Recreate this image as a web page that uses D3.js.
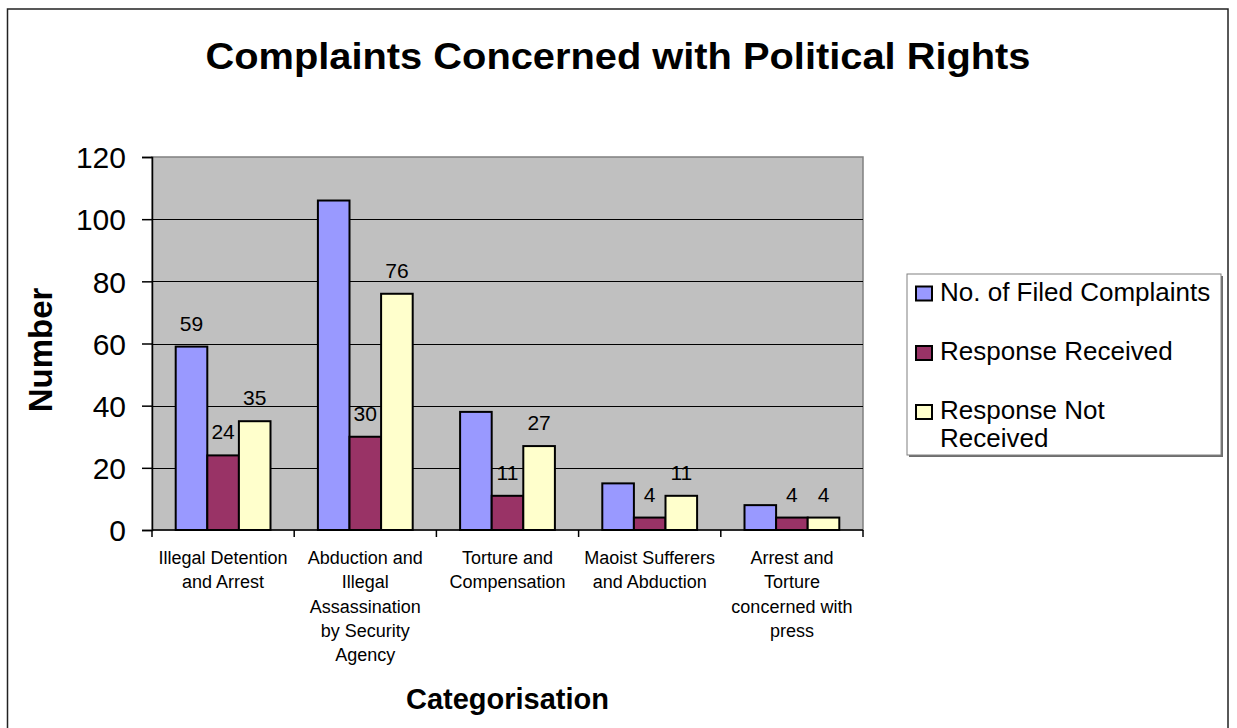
<!DOCTYPE html>
<html>
<head>
<meta charset="utf-8">
<script src="https://cdn.jsdelivr.net/npm/d3@7"></script>
<style>
  html, body { margin: 0; padding: 0; background: #fff; }
  svg { display: block; font-family: "Liberation Sans", Arial, sans-serif; }
</style>
</head>
<body>
<svg id="chart" width="1237" height="728"></svg>
<script>
// ---- data ----
const title = "Complaints Concerned with Political Rights";
const yTitle = "Number";
const xTitle = "Categorisation";
const categories = [
  "Illegal Detention and Arrest",
  "Abduction and Illegal Assassination by Security Agency",
  "Torture and Compensation",
  "Maoist Sufferers and Abduction",
  "Arrest and Torture concerned with press"
];
const categoryLines = [
  ["Illegal Detention", "and Arrest"],
  ["Abduction and", "Illegal", "Assassination", "by Security", "Agency"],
  ["Torture and", "Compensation"],
  ["Maoist Sufferers", "and Abduction"],
  ["Arrest and", "Torture", "concerned with", "press"]
];
const seriesNames = ["No. of Filed Complaints", "Response Received", "Response Not Received"];
const legendLines = [["No. of Filed Complaints"], ["Response Received"], ["Response Not", "Received"]];
const filedComplaints = [59, 106, 38, 15, 8];
const responseReceived = [24, 30, 11, 4, 4];
const responseNotReceived = [35, 76, 27, 11, 4];
// which data labels appear in the original
const filedLabelShown = [true, false, false, false, false];
const receivedLabelShown = [true, true, true, true, true];
const notReceivedLabelShown = [true, true, true, true, true];
const yTicks = [0, 20, 40, 60, 80, 100, 120];
const seriesColors = ["#9999FF", "#993366", "#FFFFCC"];

const seriesValues = [filedComplaints, responseReceived, responseNotReceived];
const seriesShown = [filedLabelShown, receivedLabelShown, notReceivedLabelShown];

// ---- layout ----
const svg = d3.select("#chart");
const plot = { left: 152, right: 863, top: 157, bottom: 530 };

// outer frame
svg.append("rect")
  .attr("x", 7.5).attr("y", 9).attr("width", 1220.5).attr("height", 740)
  .attr("fill", "#fff").attr("stroke", "#222").attr("stroke-width", 1.5);

const x0 = d3.scaleBand().domain(d3.range(categories.length))
  .range([plot.left, plot.right]).paddingInner(0).paddingOuter(0);
// Excel gap width 150%: group = 3 bars, gap = 1.5 bars
const barW = x0.bandwidth() / 4.5;
const y = d3.scaleLinear().domain([0, 120]).range([plot.bottom, plot.top]);

// plot background
svg.append("rect")
  .attr("x", plot.left).attr("y", plot.top)
  .attr("width", plot.right - plot.left).attr("height", plot.bottom - plot.top)
  .attr("fill", "#C0C0C0").attr("stroke", "#808080").attr("stroke-width", 1.5);

// gridlines
svg.append("g").selectAll("line")
  .data(yTicks.filter(t => t > 0 && t < 120))
  .join("line")
  .attr("x1", plot.left).attr("x2", plot.right)
  .attr("y1", d => Math.round(y(d)) + 0.5).attr("y2", d => Math.round(y(d)) + 0.5)
  .attr("stroke", "#000").attr("stroke-width", 1);

// bars
const gBars = svg.append("g");
seriesValues.forEach((vals, s) => {
  gBars.selectAll(null)
    .data(vals)
    .join("rect")
    .attr("x", (d, i) => x0(i) + barW * 0.75 + s * barW)
    .attr("y", d => y(d))
    .attr("width", barW)
    .attr("height", d => y(0) - y(d))
    .attr("fill", seriesColors[s])
    .attr("stroke", "#000")
    .attr("stroke-width", 2);
});

// data labels
const gLab = svg.append("g");
seriesValues.forEach((vals, s) => {
  gLab.selectAll(null)
    .data(vals.map((v, i) => ({ v, i })).filter(d => seriesShown[s][d.i]))
    .join("text")
    .attr("x", d => x0(d.i) + barW * 0.75 + s * barW + barW / 2)
    .attr("y", d => y(d.v) - 16)
    .attr("text-anchor", "middle")
    .attr("font-size", 21)
    .attr("fill", "#000")
    .text(d => d.v);
});

// y axis
const yAxis = d3.axisLeft(y).tickValues(yTicks).tickSize(10).tickPadding(16);
const gy = svg.append("g").attr("transform", `translate(${plot.left},0)`).call(yAxis);
gy.select(".domain").attr("stroke", "#000").attr("stroke-width", 1.5);
gy.selectAll(".tick line").attr("stroke", "#000").attr("stroke-width", 1.5);
gy.selectAll(".tick text").attr("font-size", 30).attr("font-family", "Liberation Sans, Arial, sans-serif")
  .attr("fill", "#000").attr("dy", "0.36em");

// x axis (category boundary ticks)
const boundaries = d3.range(categories.length + 1).map(i => plot.left + i * x0.bandwidth());
svg.append("line")
  .attr("x1", plot.left).attr("x2", plot.right)
  .attr("y1", plot.bottom).attr("y2", plot.bottom)
  .attr("stroke", "#000").attr("stroke-width", 1.5);
svg.append("g").selectAll("line").data(boundaries).join("line")
  .attr("x1", d => d).attr("x2", d => d)
  .attr("y1", plot.bottom).attr("y2", plot.bottom + 7)
  .attr("stroke", "#000").attr("stroke-width", 1.5);

// category labels
const gCat = svg.append("g");
categoryLines.forEach((lines, i) => {
  const t = gCat.append("text")
    .attr("text-anchor", "middle")
    .attr("font-size", 18)
    .attr("fill", "#000");
  lines.forEach((ln, j) => {
    t.append("tspan")
      .attr("x", x0(i) + x0.bandwidth() / 2)
      .attr("y", 564 + j * 24.3)
      .text(ln);
  });
});

// titles
svg.append("text")
  .attr("x", 618).attr("y", 69)
  .attr("text-anchor", "middle")
  .attr("font-size", 37).attr("font-weight", "bold")
  .attr("textLength", 825).attr("lengthAdjust", "spacingAndGlyphs")
  .text(title);

svg.append("text")
  .attr("x", (plot.left + plot.right) / 2).attr("y", 709)
  .attr("text-anchor", "middle")
  .attr("font-size", 29).attr("font-weight", "bold")
  .text(xTitle);

svg.append("text")
  .attr("transform", `translate(52,350) rotate(-90)`)
  .attr("text-anchor", "middle")
  .attr("font-size", 33).attr("font-weight", "bold")
  .text(yTitle);

// legend
const lg = svg.append("g");
lg.append("rect").attr("x", 909).attr("y", 276).attr("width", 314).attr("height", 181)
  .attr("fill", "#6e6e6e");
lg.append("rect").attr("x", 907).attr("y", 274).attr("width", 314).attr("height", 181)
  .attr("fill", "#fff").attr("stroke", "#808080").attr("stroke-width", 1);
const rowBase = [300.5, 360, 419];
seriesNames.forEach((name, s) => {
  lg.append("rect")
    .attr("x", 916).attr("y", rowBase[s] - 14).attr("width", 16).attr("height", 14)
    .attr("fill", seriesColors[s]).attr("stroke", "#000").attr("stroke-width", 2);
  const t = lg.append("text").attr("font-size", 26).attr("fill", "#000");
  legendLines[s].forEach((ln, j) => {
    t.append("tspan").attr("x", 940).attr("y", rowBase[s] + j * 28).text(ln);
  });
});
</script>
</body>
</html>
